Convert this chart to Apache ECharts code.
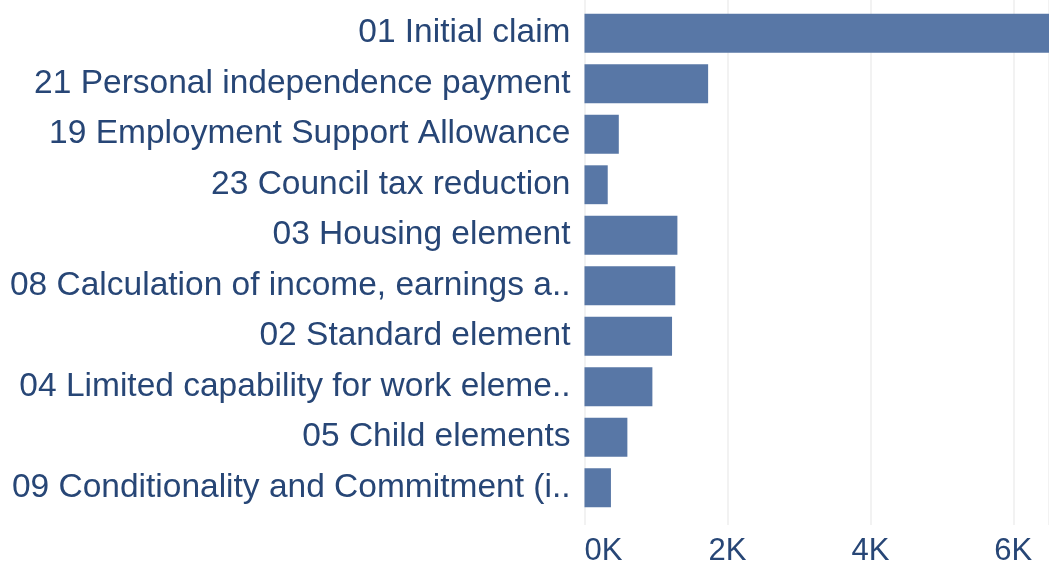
<!DOCTYPE html>
<html>
<head>
<meta charset="utf-8">
<script src="https://cdn.jsdelivr.net/npm/echarts@6/dist/echarts.min.js"></script>
<style>
  html, body { margin: 0; padding: 0; background: #ffffff; }
  #chart { width: 1049px; height: 567px; }
</style>
</head>
<body>
<div id="chart"></div>
<script>
// Appeal reasons, top ten, by count
const categories = [
  '01 Initial claim',
  '21 Personal independence payment',
  '19 Employment Support Allowance',
  '23 Council tax reduction',
  '03 Housing element',
  '08 Calculation of income, earnings a..',
  '02 Standard element',
  '04 Limited capability for work eleme..',
  '05 Child elements',
  '09 Conditionality and Commitment (i..'
];
const counts = [6550, 1730, 480, 325, 1300, 1270, 1225, 950, 600, 370];

// Value axis range and tick step
const axisMin = 0;
const axisMax = 6500;
const tickStep = 2000;

const textColor = '#274676';
const barColor = '#5877a6';
const fontFamily = '"Liberation Sans", Arial, Helvetica, sans-serif';

const chart = echarts.init(document.getElementById('chart'), null, { renderer: 'canvas' });

chart.setOption({
  backgroundColor: '#ffffff',
  animation: false,
  grid: [
    // bars
    { left: 584.5, right: 0, top: 8, height: 505, containLabel: false },
    // background grid lines and tick labels
    { left: 584.5, right: 0, top: 0, bottom: 39, containLabel: false }
  ],
  xAxis: [
    {
      type: 'value', gridIndex: 0, min: axisMin, max: axisMax, interval: tickStep,
      show: false
    },
    {
      type: 'value', gridIndex: 1, min: axisMin, max: axisMax, interval: tickStep,
      axisLine: { show: false },
      axisTick: { show: false },
      splitLine: { show: true, lineStyle: { color: '#eeeeee', width: 1.5 } },
      axisLabel: {
        color: textColor,
        fontFamily: fontFamily,
        fontSize: 31,
        margin: 11,
        showMaxLabel: false,
        alignMinLabel: 'left',
        formatter: v => (v / 1000) + 'K'
      }
    }
  ],
  yAxis: [
    {
      type: 'category', gridIndex: 0, data: categories, inverse: true,
      axisLine: { show: false },
      axisTick: { show: false },
      splitLine: { show: false },
      axisLabel: {
        color: textColor,
        fontFamily: fontFamily,
        fontSize: 33.5,
        padding: [4, 0, 0, 0],
        margin: 14
      }
    },
    {
      type: 'value', gridIndex: 1, show: false
    }
  ],
  series: [
    {
      type: 'bar',
      xAxisIndex: 0,
      yAxisIndex: 0,
      data: counts,
      barCategoryGap: '23%',
      clip: true,
      itemStyle: { color: barColor },
      z: 3
    }
  ]
});
</script>
</body>
</html>
